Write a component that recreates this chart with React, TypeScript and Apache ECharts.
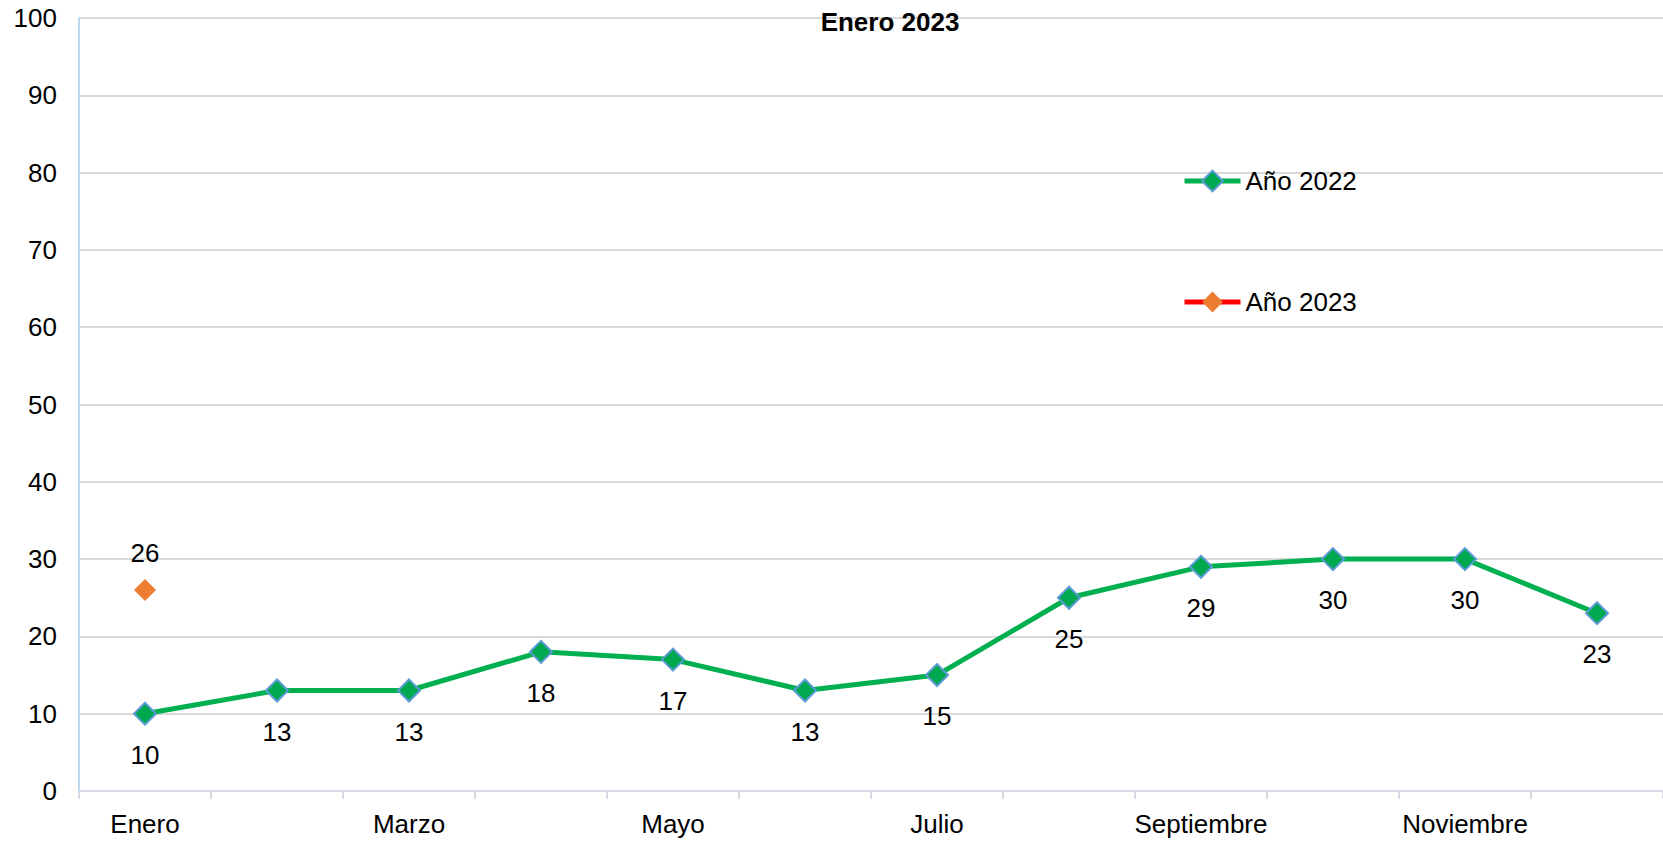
import React, { useEffect, useRef } from "react";
import * as echarts from "echarts";

const months = ["Enero", "Febrero", "Marzo", "Abril", "Mayo", "Junio", "Julio", "Agosto", "Septiembre", "Octubre", "Noviembre", "Diciembre"];
const values2022 = [10, 13, 13, 18, 17, 13, 15, 25, 29, 30, 30, 23];
const values2023 = [26, null, null, null, null, null, null, null, null, null, null, null];
const yTicks = { min: 0, max: 100, interval: 10 };
const titleText = "Enero 2023";
const seriesNames = ["Año 2022", "Año 2023"];

const FONT = "'Liberation Sans', Arial, sans-serif";

export default function App() {
  const ref = useRef<HTMLDivElement>(null);
  useEffect(() => {
    if (!ref.current) return;
    const chart = echarts.init(ref.current, null, { renderer: "svg" });
    chart.setOption({
      animation: false,
      backgroundColor: "#ffffff",
      textStyle: { fontFamily: FONT },
      title: {
        text: titleText,
        left: 885,
        top: 4,
        textAlign: "center",
        textStyle: { fontFamily: FONT, fontSize: 26, fontWeight: "bold", color: "#000" },
      },
      legend: {
        orient: "vertical",
        left: 1182,
        top: 168,
        padding: 0,
        itemWidth: 56,
        itemHeight: 26,
        itemGap: 95,
        lineStyle: { width: 5 },
        textStyle: { fontFamily: FONT, fontSize: 26, color: "#000" },
        data: seriesNames,
      },
      grid: { left: 79, right: 0, top: 18, bottom: 51, containLabel: false },
      xAxis: {
        type: "category",
        data: months,
        boundaryGap: true,
        axisLine: { show: true, lineStyle: { color: "#D6DCE4", width: 2 } },
        axisTick: { show: true, length: 8, lineStyle: { color: "#D6DCE4", width: 2 }, alignWithLabel: false, interval: 0 },
        axisLabel: { interval: 1, fontFamily: FONT, fontSize: 26, color: "#000", margin: 20 },
        splitLine: { show: false },
      },
      yAxis: {
        type: "value",
        min: yTicks.min,
        max: yTicks.max,
        interval: yTicks.interval,
        axisLine: { show: true, lineStyle: { color: "#BDD7EE", width: 2 } },
        axisTick: { show: false },
        axisLabel: { fontFamily: FONT, fontSize: 26, color: "#000", margin: 22 },
        splitLine: { show: true, lineStyle: { color: "#D9D9D9", width: 2 } },
      },
      series: [
        {
          name: seriesNames[0],
          type: "line",
          data: values2022,
          symbol: "diamond",
          symbolSize: 22,
          lineStyle: { color: "#00B050", width: 5 },
          itemStyle: { color: "#00A84F", borderColor: "#5B9BD5", borderWidth: 2 },
          label: { show: true, position: "bottom", distance: 16, fontFamily: FONT, fontSize: 26, color: "#000" },
          z: 3,
        },
        {
          name: seriesNames[1],
          type: "line",
          data: values2023,
          symbol: "diamond",
          symbolSize: 22,
          lineStyle: { color: "#FF0000", width: 5 },
          itemStyle: { color: "#ED7D31" },
          label: { show: true, position: "top", distance: 13, fontFamily: FONT, fontSize: 26, color: "#000" },
          z: 4,
        },
      ],
    });
    return () => chart.dispose();
  }, []);
  return <div ref={ref} style={{ position: "fixed", left: 0, top: 0, width: 1663, height: 842 }} />;
}
